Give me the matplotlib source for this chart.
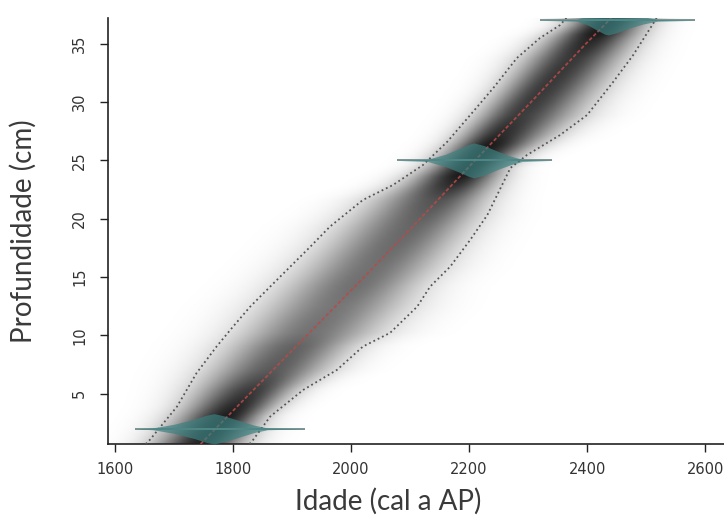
import numpy as np
import matplotlib
matplotlib.use("Agg")
import matplotlib.pyplot as plt
from matplotlib.colors import LinearSegmentedColormap

# Age-depth model (depth in cm, age in cal a AP)
medDepth = [0.7, 2, 5, 10, 15, 20, 25, 30, 35, 37.2]
medAge = [1745, 1770, 1828, 1925, 2022, 2117, 2210, 2305, 2398, 2441]

# 95% range (dotted lines)
loDepth = [0.7, 1.06, 3.91, 6.77, 9.05, 10.76, 12.47, 14.19, 15.90, 17.61, 19.32,
           21.61, 22.89, 24.61, 26.60, 28.89, 31.20, 33.77, 35.48, 36.59, 37.2]
loAge = [1652, 1659, 1705, 1738, 1772, 1800, 1829, 1863, 1897, 1931, 1964,
         2020, 2071, 2122, 2163, 2202, 2241, 2281, 2320, 2354, 2365]
hiDepth = [0.7, 1.06, 3.06, 5.34, 7.05, 9.05, 10.22, 12.47, 14.19, 15.90, 18.2,
           20.33, 24.35, 25.46, 27.17, 28.89, 31.71, 34.02, 36.33, 37.2]
hiAge = [1828, 1834, 1863, 1919, 1976, 2020, 2066, 2112, 2134, 2168, 2202,
         2231, 2270, 2298, 2354, 2400, 2444, 2478, 2507, 2518]

# Calibrated dates: depth, age grid and relative probability
dateDepths = [2, 25, 37]
dateAges = [
    [1634, 1664, 1700, 1735, 1755, 1768, 1785, 1810, 1835, 1858, 1922],
    [2078, 2129, 2160, 2185, 2200, 2208, 2225, 2250, 2270, 2290, 2341],
    [2320, 2383, 2400, 2418, 2430, 2436, 2450, 2470, 2495, 2519, 2583],
]
dateProbs = [
    [0.0, 0.06, 0.3, 0.65, 0.9, 1.0, 0.85, 0.55, 0.25, 0.06, 0.0],
    [0.0, 0.06, 0.35, 0.7, 0.92, 1.0, 0.85, 0.5, 0.25, 0.06, 0.0],
    [0.0, 0.06, 0.3, 0.7, 0.95, 1.0, 0.85, 0.55, 0.25, 0.06, 0.0],
]
dateHeight = [1.3, 1.5, 1.25]

xTicks = [1600, 1800, 2000, 2200, 2400, 2600]
yTicks = [5, 10, 15, 20, 25, 30, 35]

fig = plt.figure(figsize=(7.24, 5.17), dpi=100)
ax = fig.add_axes([108/724, 73/517, 616/724, 426/517])
ax.set_xlim(1588, 2632)
ax.set_ylim(0.7, 37.2)

# Grey shading of the age-depth model
ages = np.linspace(1588, 2632, 700)
depths = np.linspace(0.7, 37.2, 400)
A, D = np.meshgrid(ages, depths)
med = np.interp(D, medDepth, medAge)
lo = np.interp(D, loDepth, loAge)
hi = np.interp(D, hiDepth, hiAge)
sig = np.where(A < med, (med - lo) / 1.75, (hi - med) / 1.75)
width = hi - lo
dark = np.exp(-0.5 * ((A - med) / sig) ** 2) * np.minimum(0.95, 0.95 * 170.0 / width)
cmap = LinearSegmentedColormap.from_list('wb', ['white', '#111111'])
ax.imshow(dark, extent=(1588, 2632, 0.7, 37.2), origin='lower', aspect='auto',
          cmap=cmap, vmin=0, vmax=1, interpolation='bilinear', zorder=1)

# 95% ranges and median
ax.plot(loAge, loDepth, color='#555555', ls=':', lw=1.3, zorder=3)
ax.plot(hiAge, hiDepth, color='#555555', ls=':', lw=1.3, zorder=3)
ax.plot(medAge, medDepth, color='#b84a48', ls=(0, (2, 1.2)), lw=1.3, alpha=0.85, zorder=3)

# Dates
for d, a, p, h in zip(dateDepths, dateAges, dateProbs, dateHeight):
    p = np.array(p) * h
    ax.hlines(d, a[0], a[-1], color='#7a9494', lw=1.4, zorder=4)
    ax.fill_between(a, d - p, d + p, color='#3d8080', alpha=0.7, lw=0, zorder=5)

for s in ['top', 'right']:
    ax.spines[s].set_visible(False)
for s in ['left', 'bottom']:
    ax.spines[s].set_color('#222222')
    ax.spines[s].set_linewidth(1.2)

ax.set_xticks(xTicks)
ax.set_yticks(yTicks)
ax.tick_params(axis='x', direction='out', length=6, width=1, colors='#222222',
               labelsize=10.5, pad=7, labelcolor='#333333')
ax.tick_params(axis='y', direction='out', length=6, width=1, colors='#222222',
               labelsize=10.5, pad=9, labelcolor='#333333', labelrotation=90)
for lab in ax.get_yticklabels():
    lab.set_verticalalignment('center')

ax.set_xlabel('Idade (cal a AP)', fontsize=20, family='Lato', color='#3a3a3a')
ax.set_ylabel('Profundidade (cm)', fontsize=20, family='Lato', color='#3a3a3a')
ax.xaxis.set_label_coords(0.4545, -0.103)
ax.yaxis.set_label_coords(-0.115, 0.5)

fig.savefig('out.png', dpi=100)
